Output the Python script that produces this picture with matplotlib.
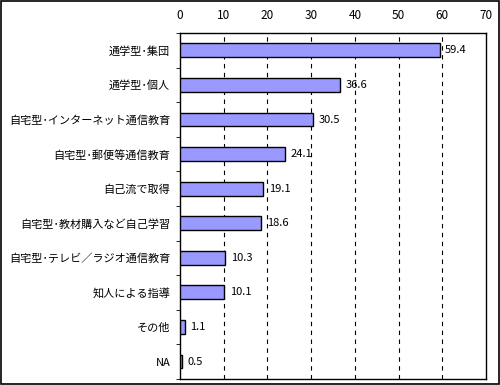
import matplotlib.pyplot as plt
import numpy as np

plt.rcParams['font.family'] = ['Noto Sans CJK JP', 'DejaVu Sans']

categories = ['通学型･集団', '通学型･個人', '自宅型･インターネット通信教育', '自宅型･郵便等通信教育',
              '自己流で取得', '自宅型･教材購入など自己学習', '自宅型･テレビ／ラジオ通信教育',
              '知人による指導', 'その他', 'NA']
values = [59.4, 36.6, 30.5, 24.1, 19.1, 18.6, 10.3, 10.1, 1.1, 0.5]

fig = plt.figure(figsize=(5, 3.85), dpi=100)
fig.patches.append(plt.Rectangle((0.002, 0.003), 0.996, 0.994, transform=fig.transFigure,
                                 fill=False, edgecolor='black', linewidth=1.2))
ax = fig.add_axes([0.36, 0.016, 0.612, 0.898])

y = np.arange(len(categories))
ax.barh(y, values, height=0.4, color='#9999ff', edgecolor='black', linewidth=1, zorder=3)
for yi, v in zip(y, values):
    ax.annotate(f'{v:.1f}', (v, yi), xytext=(4, 0), textcoords='offset points',
                va='center', ha='left', fontsize=8)

ax.set_xlim(0, 70)
ax.set_ylim(len(categories) - 0.5, -0.5)
ax.set_xticks(range(0, 71, 10))
ax.xaxis.tick_top()
ax.tick_params(axis='x', length=0, labelsize=8.5, pad=8)
ax.set_yticks(y)
ax.set_yticklabels(categories, fontsize=8)
ax.tick_params(axis='y', which='major', length=0, pad=7)
ax.set_yticks(np.arange(-0.5, len(categories), 1), minor=True)
ax.tick_params(axis='y', which='minor', length=3, direction='out')
for xv in range(10, 70, 10):
    ax.axvline(xv, color='black', linestyle=(0, (4, 4)), linewidth=0.8, zorder=1)
for s in ax.spines.values():
    s.set_linewidth(1)

fig.savefig('out.png', dpi=100)
